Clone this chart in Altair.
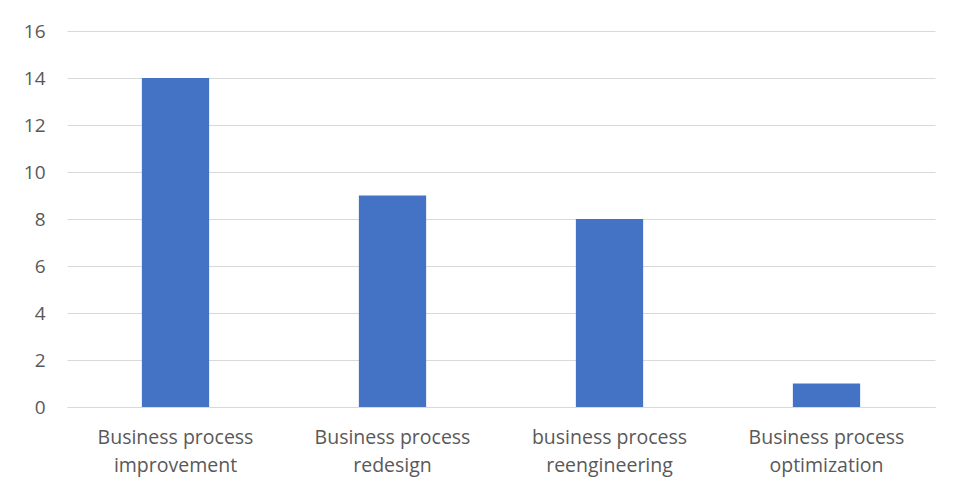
import altair as alt
import pandas as pd

categories = ["Business process improvement", "Business process redesign",
              "business process reengineering", "Business process optimization"]
values = [14, 9, 8, 1]

df = pd.DataFrame({"category": categories, "value": values})

chart = alt.Chart(df).mark_bar(color="#4472C4").encode(
    x=alt.X("category:N", sort=None, title=None,
            scale=alt.Scale(paddingInner=0.69, paddingOuter=0.345),
            axis=alt.Axis(labelAngle=0, ticks=False, domainColor="#d9d9d9",
                          labelExpr="[slice(datum.label,0,16), slice(datum.label,17)]",
                          labelFontSize=19.5, labelLineHeight=28, labelPadding=21,
                          labelColor="#595959", labelFont="Open Sans")),
    y=alt.Y("value:Q", title=None,
            scale=alt.Scale(domain=[0, 16]),
            axis=alt.Axis(values=list(range(0, 17, 2)), ticks=False, domain=False,
                          gridColor="#d9d9d9", labelPadding=22, labelFontSize=19,
                          labelColor="#595959", labelFont="Open Sans")),
).properties(
    width=868, height=376,
    autosize=alt.AutoSizeParams(type="none"),
    padding={"left": 59, "top": 23, "right": 15, "bottom": 80},
).configure_view(stroke=None)

chart.save("out.html", embed_options={"renderer": "svg", "actions": False})
